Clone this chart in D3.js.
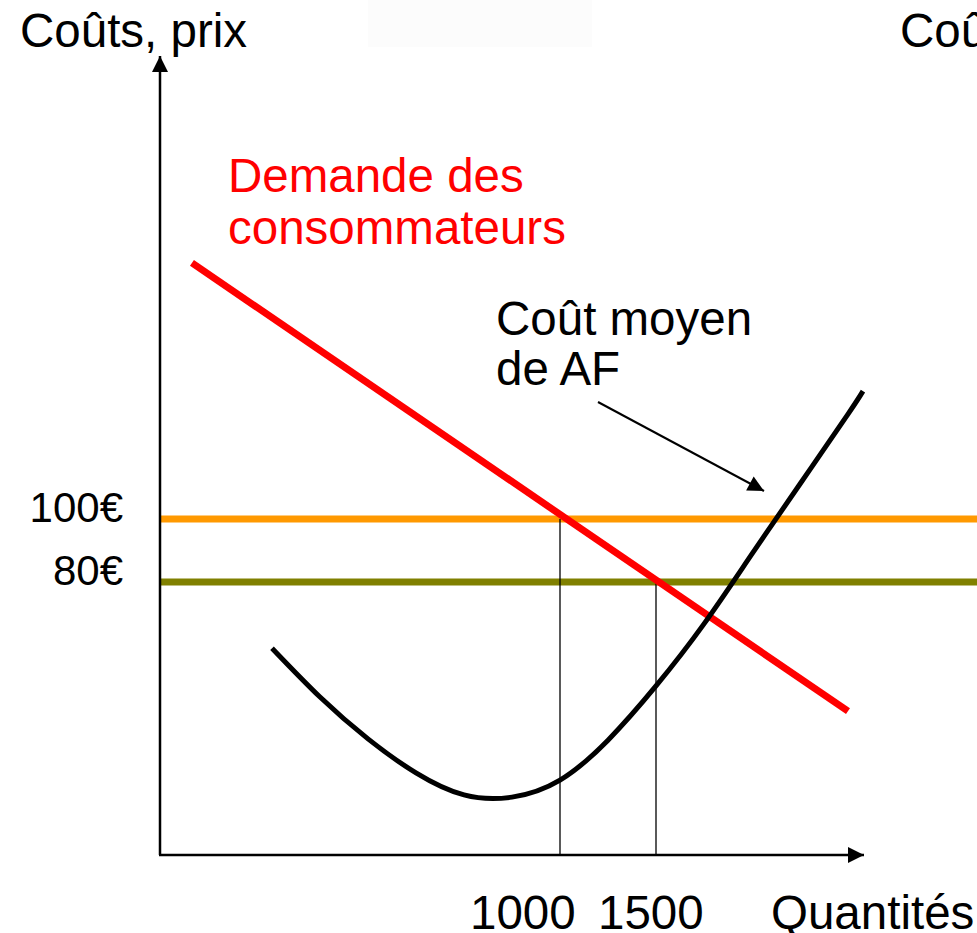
<!DOCTYPE html>
<html><head><meta charset="utf-8">
<script src="https://cdn.jsdelivr.net/npm/d3@7"></script>
<style>
html,body{margin:0;padding:0;background:#fff;overflow:hidden;}
text{font-family:"Liberation Sans",Arial,sans-serif;}
</style></head>
<body><svg id="c" width="977" height="933"></svg>
<script>
// ---- data ----
const priceTicks = [100, 80];
const priceLabels = ["100€", "80€"];
const quantityTicks = [1000, 1500];
const quantityLabels = ["1000", "1500"];
// demand (quantity, price)
const demandQ = [-917, 2500];
const demandP = [181.3, 39.0];
// average cost curve of AF (quantity, price)
const costQ = [-500, -250, 0, 250, 500, 750, 1000, 1250, 1500, 1750, 2000, 2250, 2500, 2578];
const costP = [59.0, 43.5, 30.2, 19.4, 12.4, 11.7, 17.1, 29.8, 47.0, 66.7, 88.9, 111.1, 133.3, 140.6];
const yAxisTitle = "Coûts, prix";
const yAxisTitle2 = "Coûts";
const xAxisTitle = "Quantités";
const demandLabel = ["Demande des", "consommateurs"];
const costLabel = ["Coût moyen", "de AF"];

// ---- scales ----
const x = d3.scaleLinear().domain([1000, 1500]).range([560, 656]);
const y = d3.scaleLinear().domain([80, 100]).range([582, 519]);
const x0 = 160, y0 = 855, xEnd = 864, yTop = 56;

const svg = d3.select("#c");
const FS = 47.5;

// faint box at top
svg.append("rect").attr("x", 368).attr("y", 0).attr("width", 224).attr("height", 47).attr("fill", "#fcfcfc");

const defs = svg.append("defs");
defs.append("marker").attr("id", "ah2").attr("viewBox", "0 0 10 10").attr("refX", 10).attr("refY", 5)
  .attr("markerWidth", 20).attr("markerHeight", 16).attr("markerUnits", "userSpaceOnUse")
  .attr("orient", "auto")
  .append("path").attr("d", "M0,0L10,5L0,10Z").attr("fill", "#000");

// horizontal price lines
const hColors = ["#FF9900", "#808000"];
priceTicks.forEach((p, i) => {
  svg.append("line").attr("x1", x0).attr("x2", 977).attr("y1", y(p)).attr("y2", y(p))
    .attr("stroke", hColors[i]).attr("stroke-width", 7);
});

// vertical quantity lines
quantityTicks.forEach((q, i) => {
  svg.append("line").attr("x1", x(q)).attr("x2", x(q)).attr("y1", y(priceTicks[i])).attr("y2", y0)
    .attr("stroke", "#000").attr("stroke-width", 1.3);
});

// demand line
const line = d3.line().x(d => x(d[0])).y(d => y(d[1]));
svg.append("path").datum(d3.zip(demandQ, demandP)).attr("d", line)
  .attr("fill", "none").attr("stroke", "#FF0000").attr("stroke-width", 7);

// cost curve
svg.append("path").datum(d3.zip(costQ, costP)).attr("d", line.curve(d3.curveNatural))
  .attr("fill", "none").attr("stroke", "#000").attr("stroke-width", 5);

// axes
svg.append("line").attr("x1", x0).attr("y1", y0).attr("x2", x0).attr("y2", yTop)
  .attr("stroke", "#000").attr("stroke-width", 2.5).attr("marker-end", "url(#ah2)");
svg.append("line").attr("x1", x0 - 1).attr("y1", y0).attr("x2", xEnd).attr("y2", y0)
  .attr("stroke", "#000").attr("stroke-width", 2.5).attr("marker-end", "url(#ah2)");

// y tick labels
priceTicks.forEach((p, i) => {
  svg.append("text").attr("x", 123).attr("y", y(p) + 3).attr("text-anchor", "end")
    .attr("font-size", 42).attr("fill", "#000").text(priceLabels[i]);
});
// x tick labels
const xLabelStart = [470, 598];
quantityTicks.forEach((q, i) => {
  svg.append("text").attr("x", xLabelStart[i]).attr("y", 929)
    .attr("font-size", FS).attr("fill", "#000").text(quantityLabels[i]);
});

// titles
svg.append("text").attr("x", 20).attr("y", 47).attr("font-size", FS).text(yAxisTitle);
svg.append("text").attr("x", 900).attr("y", 47).attr("font-size", FS).text(yAxisTitle2);
svg.append("text").attr("x", 771).attr("y", 929).attr("font-size", FS).text(xAxisTitle);

// labels
demandLabel.forEach((t, i) => {
  svg.append("text").attr("x", 228).attr("y", 192 + i * 52).attr("font-size", FS)
    .attr("fill", "#FF0000").text(t);
});
costLabel.forEach((t, i) => {
  svg.append("text").attr("x", 496).attr("y", 335 + i * 50).attr("font-size", FS)
    .attr("fill", "#000").text(t);
});

// annotation arrow
svg.append("line").attr("x1", 598).attr("y1", 402).attr("x2", 764).attr("y2", 491)
  .attr("stroke", "#000").attr("stroke-width", 2).attr("marker-end", "url(#ah2)");
</script></body></html>
